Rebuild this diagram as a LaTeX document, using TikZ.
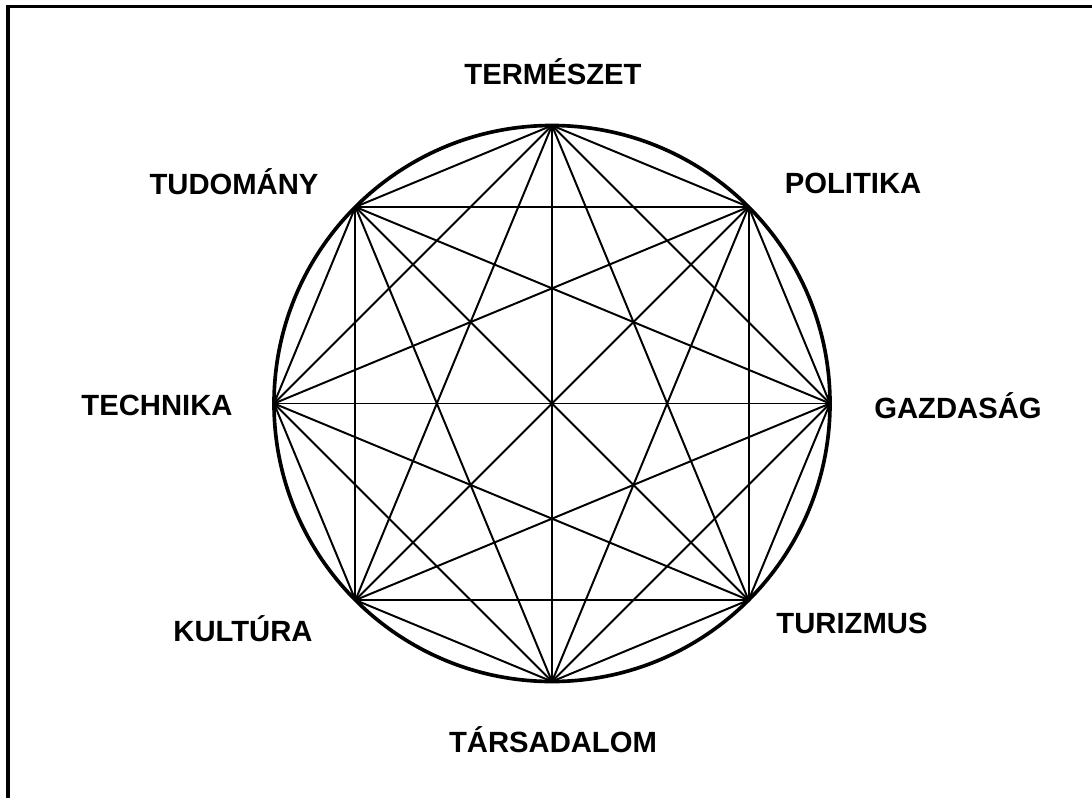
\documentclass[tikz,border=0pt]{standalone}
\usepackage{fontspec}
\setmainfont{Liberation Sans}
\tikzset{
  topic/.style={
    font=\fontsize{20.8}{24}\selectfont\bfseries,
    inner sep=0pt,
    anchor=base
  },
  ring/.style={
    circle,
    draw=black,
    line width=2.6pt,
    minimum size=139mm,
    inner sep=0pt,
    outer sep=0pt
  },
  chord/.style={
    line width=1.4pt,
    draw=black
  },
  frameline/.style={
    line width=2.2pt,
    draw=black
  }
}
\begin{document}
\begin{tikzpicture}[x=0.25mm, y=-0.25mm]
  \useasboundingbox (0,0) rectangle (1092,798);
  \draw[frameline] (1092,6.5) -- (8,6.5) -- (8,798);

  \node[ring] (wheel) at (552,403.5) {};
  \coordinate (v1) at (wheel.north);
  \coordinate (v2) at (wheel.north east);
  \coordinate (v3) at (wheel.east);
  \coordinate (v4) at (wheel.south east);
  \coordinate (v5) at (wheel.south);
  \coordinate (v6) at (wheel.south west);
  \coordinate (v7) at (wheel.west);
  \coordinate (v8) at (wheel.north west);

  % every vertex joined to every other one
  \foreach \i in {1,...,7}{
    \pgfmathtruncatemacro{\nxt}{\i+1}
    \foreach \j in {\nxt,...,8}
      \draw[chord] (v\i) -- (v\j);
  }

  \node[topic] (termeszet) at (553,84) {TERMÉSZET};
  \node[topic] (politika) at (853,193) {POLITIKA};
  \node[topic] (gazdasag) at (958,418) {GAZDASÁG};
  \node[topic] (turizmus) at (852,633) {TURIZMUS};
  \node[topic] (tarsadalom) at (553,752) {TÁRSADALOM};
  \node[topic] (kultura) at (243,641) {KULTÚRA};
  \node[topic] (technika) at (157,415) {TECHNIKA};
  \node[topic] (tudomany) at (234,194) {TUDOMÁNY};
\end{tikzpicture}
\end{document}
